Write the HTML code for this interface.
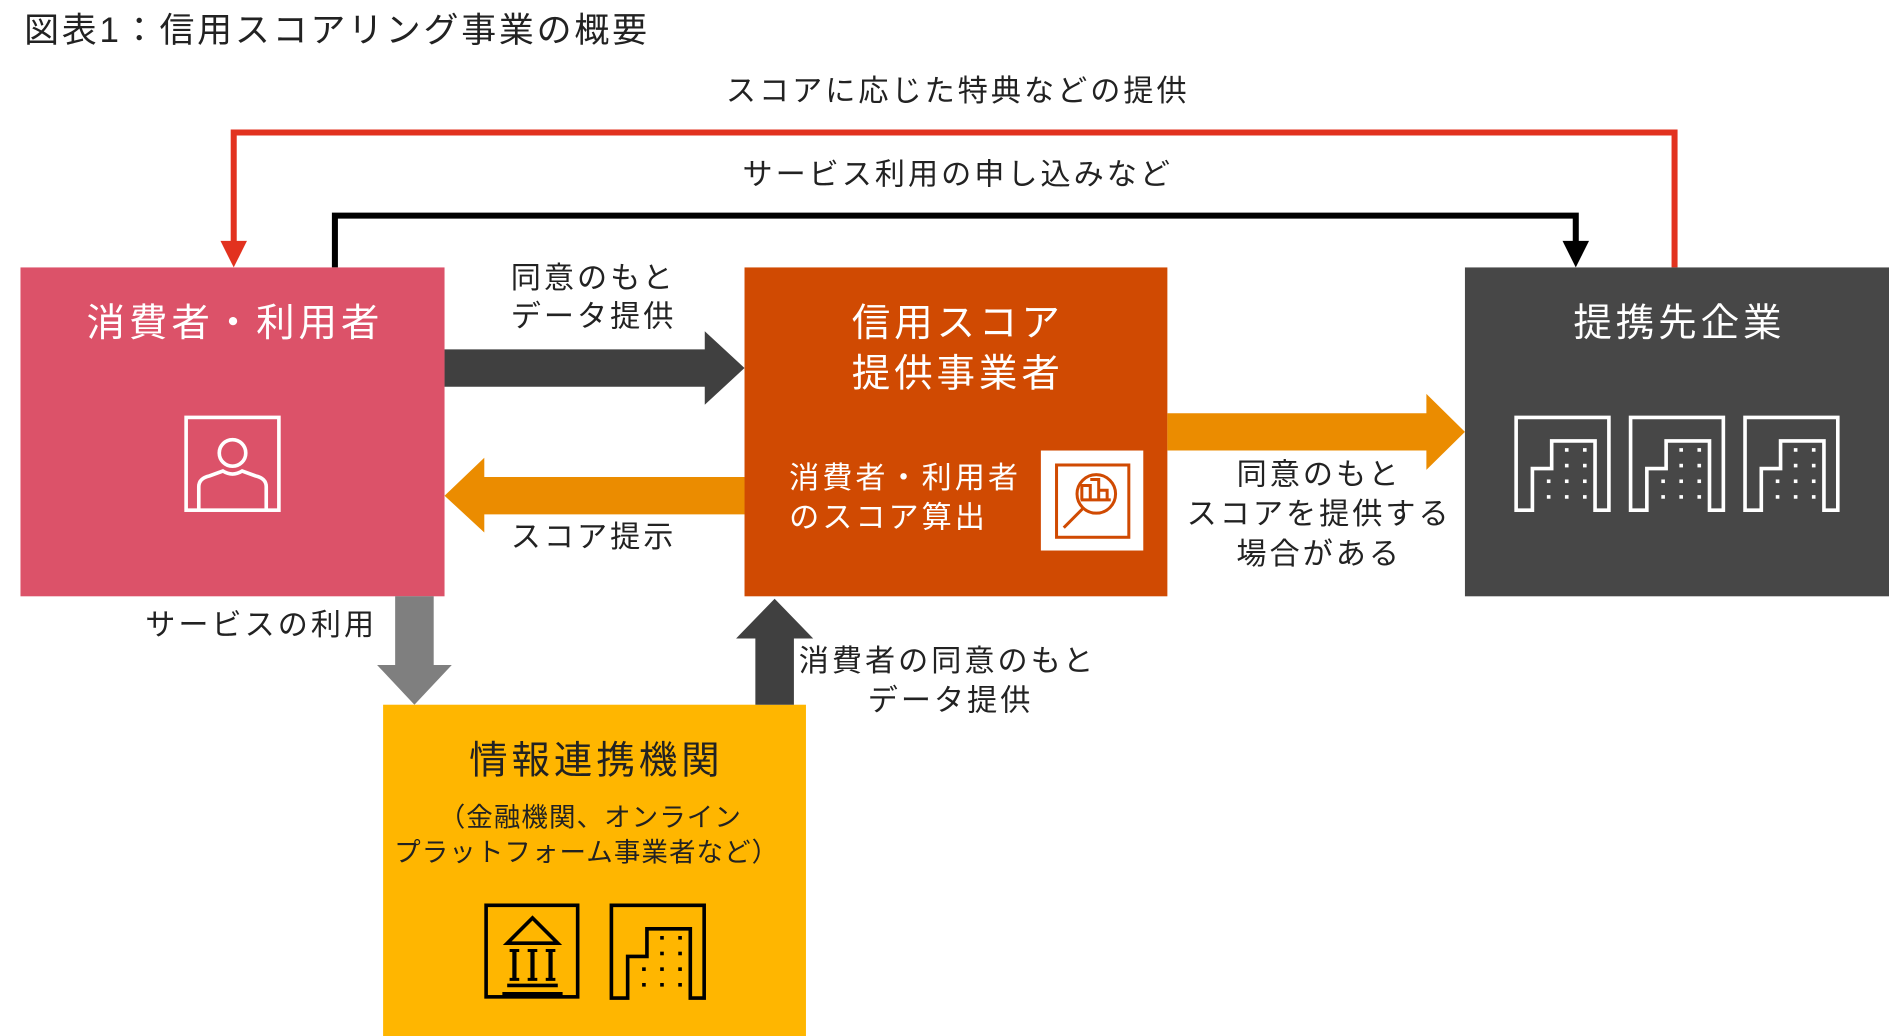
<!DOCTYPE html>
<html><head><meta charset="utf-8"><style>
html,body{margin:0;padding:0;background:#fff;}
svg{display:block;}
text{font-family:"Liberation Sans","Noto Sans CJK JP",sans-serif;letter-spacing:0.1em;}
</style></head><body>
<svg width="1889" height="1036" viewBox="0 0 1568 860" preserveAspectRatio="none" xmlns="http://www.w3.org/2000/svg">
<defs>
<g id="bld" fill="none" stroke-width="3">
<path d="M1.5,80 V1.5 H78.5 V78.5 H67 V21 H31 V44 H15 V78.5 H1.5"/>
</g>
<g id="dots">
<rect x="42" y="27" width="3" height="3"/><rect x="57" y="27" width="3" height="3"/>
<rect x="42" y="40" width="3" height="3"/><rect x="57" y="40" width="3" height="3"/>
<rect x="27" y="53" width="3" height="3"/><rect x="42" y="53" width="3" height="3"/><rect x="57" y="53" width="3" height="3"/>
<rect x="27" y="66" width="3" height="3"/><rect x="42" y="66" width="3" height="3"/><rect x="57" y="66" width="3" height="3"/>
</g>
</defs>
<text x="20" y="35" font-size="29" fill="#222" style="letter-spacing:0.08em">図表1：信用スコアリング事業の概要</text>

<path d="M1390,222 V110 H194 V205" fill="none" stroke="#e2321f" stroke-width="5"/>
<path d="M183,200 L205,200 L194,222 Z" fill="#e2321f"/>
<text x="795" y="84" font-size="25" text-anchor="middle" fill="#222">スコアに応じた特典などの提供</text>

<path d="M278,222 V179 H1308 V205" fill="none" stroke="#000" stroke-width="5"/>
<path d="M1297,200 L1319,200 L1308,222 Z" fill="#000"/>
<text x="795" y="153" font-size="25" text-anchor="middle" fill="#222">サービス利用の申し込みなど</text>

<rect x="17" y="222" width="352" height="273" fill="#dc5269"/>
<text x="195" y="279" font-size="32" text-anchor="middle" fill="#fff">消費者・利用者</text>
<g fill="none" stroke="#fff" stroke-width="3">
<rect x="154.5" y="346.5" width="77" height="77"/>
<circle cx="193" cy="376" r="11"/>
<path d="M165,423 V404 Q165,397 174,395 L185,391 Q193,396 201,391 L212,395 Q221,397 221,404 V423"/>
</g>

<rect x="618" y="222" width="351" height="273" fill="#d04a02"/>
<text x="795" y="279" font-size="32" text-anchor="middle" fill="#fff">信用スコア</text>
<text x="795" y="321" font-size="32" text-anchor="middle" fill="#fff">提供事業者</text>
<text x="655" y="405" font-size="25" fill="#fff">消費者・利用者</text>
<text x="655" y="438" font-size="25" fill="#fff">のスコア算出</text>
<rect x="864" y="374" width="85" height="83" fill="#fff"/>
<g fill="none" stroke="#d04a02" stroke-width="2.5">
<rect x="877" y="386" width="60" height="60"/>
<circle cx="910" cy="410" r="16"/>
<path d="M898,415 V403 H905 V415 M905,398 H912 V415 M912,407 H919 V415 M897,415 H922"/>
<path d="M899,422 L883,438"/>
</g>

<rect x="1216" y="222" width="352" height="273" fill="#474747"/>
<text x="1394" y="279" font-size="32" text-anchor="middle" fill="#fff">提携先企業</text>
<g stroke="#fff" fill="#fff">
<g transform="translate(1257,345)"><use href="#bld"/><g stroke="none"><use href="#dots"/></g></g>
<g transform="translate(1352,345)"><use href="#bld"/><g stroke="none"><use href="#dots"/></g></g>
<g transform="translate(1447,345)"><use href="#bld"/><g stroke="none"><use href="#dots"/></g></g>
</g>

<rect x="318" y="585" width="351" height="275" fill="#ffb600"/>
<text x="495" y="642" font-size="32" text-anchor="middle" fill="#222">情報連携機関</text>
<text x="490" y="686" font-size="22" text-anchor="middle" fill="#222" style="letter-spacing:0.04em">（金融機関、オンライン</text>
<text x="487" y="715" font-size="22" text-anchor="middle" fill="#222" style="letter-spacing:0.04em">プラットフォーム事業者など）</text>
<g fill="none" stroke="#000" stroke-width="3">
<rect x="403.5" y="751.5" width="76" height="76"/>
<path d="M421,783 L442,762 L463,783 Z"/>
<path d="M427,789 V813 M442,789 V813 M457,789 V813" stroke-width="3.5"/>
<path d="M423,789 H431 M438,789 H446 M453,789 H461 M423,813 H431 M438,813 H446 M453,813 H461" stroke-width="2.5"/>
<path d="M421,818 H463 M417,825 H467"/>
</g>
<g stroke="#000" fill="#000">
<g transform="translate(506,750)"><use href="#bld"/><g stroke="none"><use href="#dots"/></g></g>
</g>

<path d="M369,290 H585 V275 L618,305.5 L585,336 V321 H369 Z" fill="#404040"/>
<text x="424" y="239" font-size="25" fill="#222">同意のもと</text>
<text x="424" y="271" font-size="25" fill="#222">データ提供</text>

<path d="M618,396 H402 V380 L369,411.5 L402,442 V427 H618 Z" fill="#eb8c00"/>
<text x="424" y="454" font-size="25" fill="#222">スコア提示</text>

<path d="M969,343 H1184 V327 L1216,358.5 L1184,390 V374 H969 Z" fill="#eb8c00"/>
<text x="1095" y="402" font-size="25" text-anchor="middle" fill="#222">同意のもと</text>
<text x="1095" y="435" font-size="25" text-anchor="middle" fill="#222">スコアを提供する</text>
<text x="1095" y="468" font-size="25" text-anchor="middle" fill="#222">場合がある</text>

<path d="M328,495 H360 V552 H375 L344,585 L313,552 H328 Z" fill="#7f7f7f"/>
<text x="313" y="527" font-size="25" text-anchor="end" fill="#222">サービスの利用</text>

<path d="M627,585 V530 H611 L643,497 L675,530 H659 V585 Z" fill="#404040"/>
<text x="663" y="557" font-size="25" fill="#222">消費者の同意のもと</text>
<text x="789" y="590" font-size="25" text-anchor="middle" fill="#222">データ提供</text>
</svg>
</body></html>
